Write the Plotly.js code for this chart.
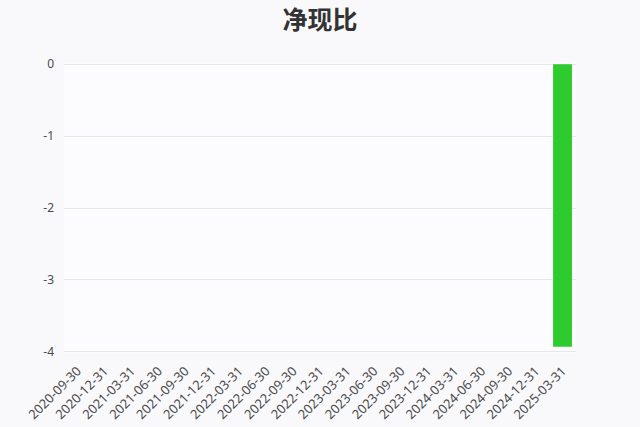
<!DOCTYPE html>
<html>
<head>
<meta charset="utf-8">
<script src="https://cdn.plot.ly/plotly-3.0.1.min.js"></script>
<style>
  html, body { margin: 0; padding: 0; background: #f9f9fb; }
  #chart { width: 640px; height: 427px; }
</style>
</head>
<body>
<div id="chart"></div>
<script>
// reporting dates (quarter ends)
const dates = [
  '2020-09-30', '2020-12-31', '2021-03-31', '2021-06-30', '2021-09-30',
  '2021-12-31', '2022-03-31', '2022-06-30', '2022-09-30', '2022-12-31',
  '2023-03-31', '2023-06-30', '2023-09-30', '2023-12-31', '2024-03-31',
  '2024-06-30', '2024-09-30', '2024-12-31', '2025-03-31'
];
// 净现比 values, only the latest quarter is reported
const ratio = [
  null, null, null, null, null,
  null, null, null, null, null,
  null, null, null, null, null,
  null, null, null, -3.93
];
const yTicks = [0, -1, -2, -3, -4];

const trace = {
  type: 'bar',
  x: dates,
  y: ratio,
  marker: { color: '#2ecb2e' },
  width: 0.7,
  hoverinfo: 'x+y'
};

const layout = {
  width: 640,
  height: 427,
  paper_bgcolor: '#f9f9fb',
  plot_bgcolor: '#fcfcfe',
  margin: { l: 64, r: 64, t: 62, b: 73, pad: 0 },
  title: {
    text: '<b>净现比</b>',
    x: 0.5,
    y: 0.972,
    xanchor: 'center',
    font: { family: 'Noto Sans CJK SC, sans-serif', size: 25, color: '#333333' }
  },
  xaxis: {
    type: 'category',
    tickangle: -45,
    tickfont: { family: 'Noto Sans, sans-serif', size: 13, color: '#4a4a4a' },
    showgrid: false,
    zeroline: false,
    showline: false,
    ticks: '',
    ticklabelstandoff: 6
  },
  yaxis: {
    // a bit wider than [-4, 0] so the edge gridlines are kept
    range: [-4.03, 0.03],
    tickvals: yTicks,
    ticktext: yTicks.map(String),
    tickfont: { family: 'Noto Sans, sans-serif', size: 12, color: '#4a4a4a' },
    gridcolor: '#e6e6ec',
    zeroline: false,
    showline: false,
    ticks: '',
    ticklabelstandoff: 9
  },
  showlegend: false,
  bargap: 0.3
};

Plotly.newPlot('chart', [trace], layout, { displayModeBar: false, staticPlot: true });
</script>
</body>
</html>
